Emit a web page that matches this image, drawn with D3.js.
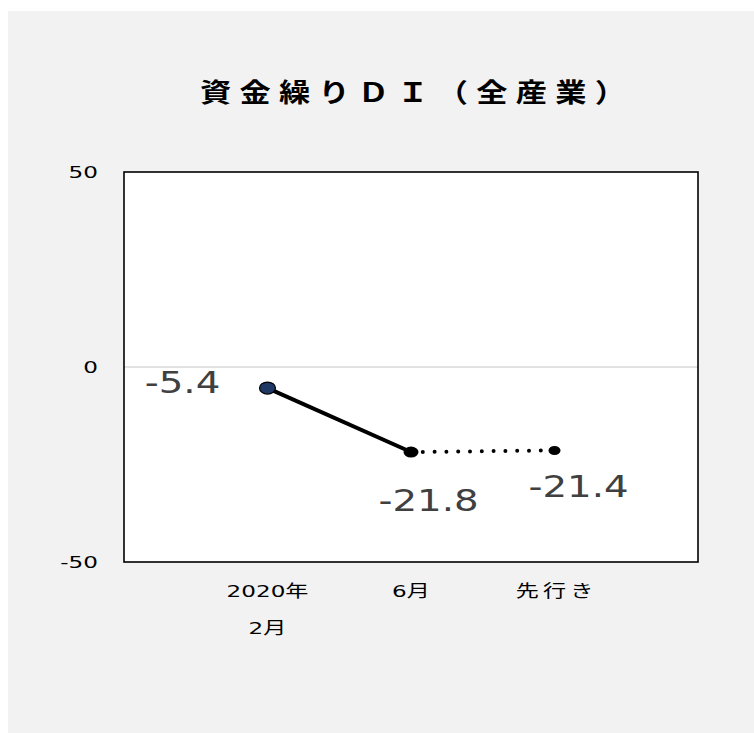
<!DOCTYPE html>
<html>
<head>
<meta charset="utf-8">
<script src="https://cdn.jsdelivr.net/npm/d3@7"></script>
<style>
  html, body { margin: 0; padding: 0; background: #ffffff; }
  svg { display: block; }
</style>
</head>
<body>
<script>
// Series data
const categories = ["2020年\n2月", "6月", "先行き"];
const actualValues = [-5.4, -21.8];      // solid line: results
const forecastValues = [-21.8, -21.4];   // dotted line: outlook
const yTicks = [50, 0, -50];
const titleText = "資金繰りＤＩ（全産業）";

const W = 754, H = 733;
const FONT = "'DejaVu Sans', 'Noto Sans CJK JP', sans-serif";
const CJK = "'Noto Sans CJK JP', sans-serif";
const svg = d3.select("body").append("svg").attr("width", W).attr("height", H);

// chart background
svg.append("rect").attr("x", 8).attr("y", 11).attr("width", W - 8).attr("height", H - 11)
  .attr("fill", "#f2f2f2");

const plot = { left: 124, top: 172, right: 698, bottom: 562 };

// x: category positions with an empty slot on each side
const x = d3.scalePoint()
  .domain(["_s", ...categories, "_e"])
  .range([plot.left, plot.right]);

const y = d3.scaleLinear().domain([-50, 50]).range([plot.bottom, plot.top]);

// plot area
svg.append("rect")
  .attr("x", plot.left).attr("y", plot.top)
  .attr("width", plot.right - plot.left).attr("height", plot.bottom - plot.top)
  .attr("fill", "#ffffff");

// zero line
svg.append("line")
  .attr("x1", plot.left).attr("x2", plot.right)
  .attr("y1", y(0)).attr("y2", y(0))
  .attr("stroke", "#d9d9d9").attr("stroke-width", 1.5);

// frame
svg.append("rect")
  .attr("x", plot.left).attr("y", plot.top)
  .attr("width", plot.right - plot.left).attr("height", plot.bottom - plot.top)
  .attr("fill", "none").attr("stroke", "#000").attr("stroke-width", 1.6);

// wide text: glyphs are drawn horizontally stretched
const SX = 1.4;

// y axis labels
svg.append("g").selectAll("text").data(yTicks).join("text")
  .attr("transform", d => `translate(${plot.left - 26},${y(d)}) scale(${SX},1)`)
  .attr("text-anchor", "end")
  .attr("dy", "0.36em")
  .style("font-family", FONT).style("font-size", "16.5px")
  .attr("fill", "#000")
  .text(d => String(d));

// x axis labels (multi-line)
const isCJKOnly = s => /^[\u3000-\u9fff\uff00-\uffef]+$/.test(s);
const xLab = svg.append("g");
categories.forEach(c => {
  const lines = c.split("\n");
  const t = xLab.append("text")
    .attr("transform", `translate(${x(c)},${plot.bottom + 35}) scale(${SX},1)`)
    .attr("text-anchor", "middle")
    .style("font-family", FONT).style("font-size", "16.5px")
    .attr("fill", "#000");
  lines.forEach((ln, i) => {
    const ls = isCJKOnly(ln) ? 3 : 0;
    t.append("tspan")
      .attr("x", ls / 2)
      .attr("dy", i === 0 ? 0 : 37)
      .style("letter-spacing", ls + "px")
      .text(ln);
  });
});

// title
svg.append("text")
  .attr("transform", "translate(200,102) scale(1.2,1)")
  .attr("text-anchor", "start")
  .style("font-family", CJK)
  .style("font-size", "26px").style("font-weight", "bold")
  .style("letter-spacing", "6.9px")
  .attr("fill", "#000")
  .text(titleText);

const line = d3.line().x(d => x(d.c)).y(d => y(d.v));

const actual = actualValues.map((v, i) => ({ c: categories[i], v }));
const forecast = forecastValues.map((v, i) => ({ c: categories[i + 1], v }));

// forecast (dotted)
svg.append("path").datum(forecast)
  .attr("d", line).attr("fill", "none")
  .attr("stroke", "#000").attr("stroke-width", 4)
  .attr("stroke-dasharray", "0 11.8").attr("stroke-linecap", "round");

// actual (solid)
svg.append("path").datum(actual)
  .attr("d", line).attr("fill", "none")
  .attr("stroke", "#000").attr("stroke-width", 4);

// markers
svg.append("ellipse").attr("cx", x(actual[0].c)).attr("cy", y(actual[0].v))
  .attr("rx", 8).attr("ry", 6)
  .attr("fill", "#1f3864").attr("stroke", "#000").attr("stroke-width", 1.2);
svg.append("ellipse").attr("cx", x(actual[1].c)).attr("cy", y(actual[1].v))
  .attr("rx", 7.5).attr("ry", 5.5)
  .attr("fill", "#000");
svg.append("ellipse").attr("cx", x(forecast[1].c)).attr("cy", y(forecast[1].v))
  .attr("rx", 6).attr("ry", 4.5)
  .attr("fill", "#000");

// value labels
const labels = [
  { c: categories[0], v: actualValues[0], dx: -85, dy: 5 },
  { c: categories[1], v: actualValues[1], dx: 17.5, dy: 59 },
  { c: categories[2], v: forecastValues[1], dx: 24, dy: 46.5 }
];
labels.forEach(d => {
  svg.append("text")
    .attr("transform", `translate(${x(d.c) + d.dx},${y(d.v) + d.dy}) scale(1.29,1)`)
    .attr("text-anchor", "middle")
    .style("font-family", "'DejaVu Sans', sans-serif")
    .style("font-size", "30px")
    .attr("fill", "#404040")
    .text(d.v.toFixed(1));
});
</script>
</body>
</html>
